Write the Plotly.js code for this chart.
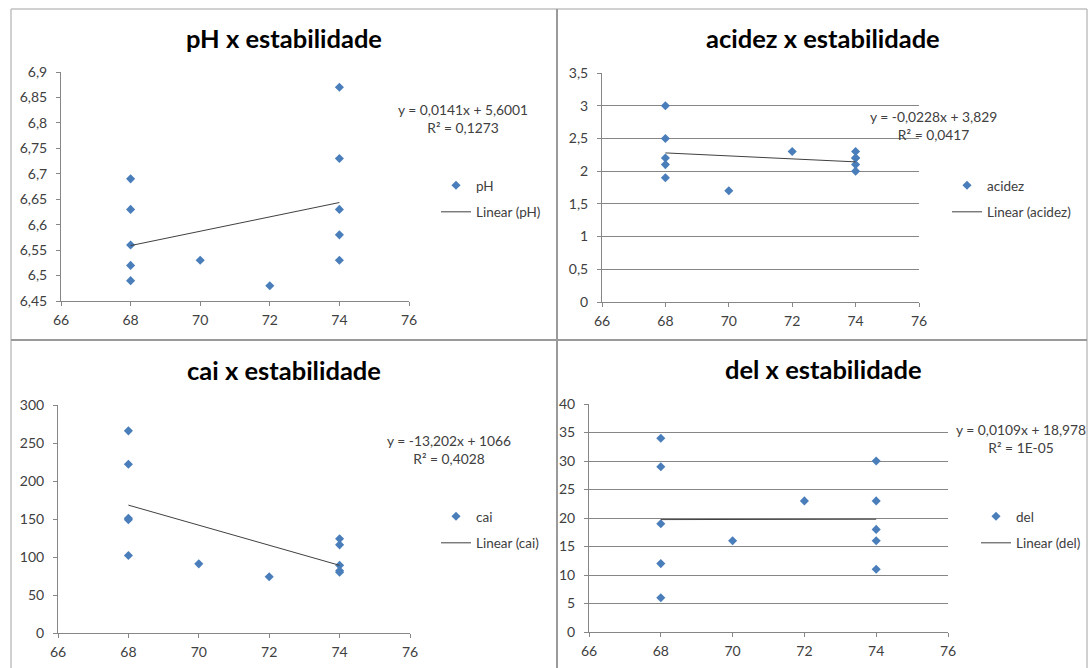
<!DOCTYPE html>
<html>
<head>
<meta charset="utf-8">
<script src="https://cdn.plot.ly/plotly-3.0.1.min.js"></script>
<style>
  html, body { margin: 0; padding: 0; background: #ffffff; }
  #chart { width: 1089px; height: 668px; }
</style>
</head>
<body>
<div id="chart"></div>
<script>
// ---- data ----
const estabilidade = [68, 68, 68, 68, 68, 70, 72, 74, 74, 74, 74, 74];
const pH     = [6.69, 6.63, 6.56, 6.52, 6.49, 6.53, 6.48, 6.87, 6.73, 6.63, 6.58, 6.53];
const acidez = [3.0, 2.5, 2.2, 2.1, 1.9, 1.7, 2.3, 2.3, 2.2, 2.2, 2.1, 2.0];
const cai    = [266, 222, 151, 149, 102, 91, 74, 124, 116, 89, 82, 80];
const del    = [34, 29, 19, 12, 6, 16, 23, 30, 23, 18, 16, 11];

const seriesNames = ['pH', 'acidez', 'cai', 'del'];
const chartTitles = ['pH x estabilidade', 'acidez x estabilidade', 'cai x estabilidade', 'del x estabilidade'];
// trend line equations as printed on the chart
const trendSlope     = [0.0141, -0.0228, -13.202, 0.0109];
const trendIntercept = [5.6001, 3.829, 1066, 18.978];
const trendLabels = [
  'y = 0,0141x + 5,6001<br>R² = 0,1273',
  'y = -0,0228x + 3,829<br>R² = 0,0417',
  'y = -13,202x + 1066<br>R² = 0,4028',
  'y = 0,0109x + 18,978<br>R² = 1E-05'
];
const xTicks = [66, 68, 70, 72, 74, 76];
const yRanges = [[6.45, 6.9], [0, 3.5], [0, 300], [0, 40]];
const yDticks = [0.05, 0.5, 50, 5];
const yGrid = [false, true, false, true];

const allY = [pH, acidez, cai, del];

// ---- layout helpers (pixel -> paper) ----
const W = 1089, H = 668;
const px = v => v / W;
const py = v => 1 - v / H;

// plot areas in pixels: [left, right, top, bottom]
const boxes = [
  [61, 409, 72, 301],
  [602, 919, 73, 302],
  [58, 410, 405, 633],
  [589, 948, 404, 632]
];
const titlePos = [[284, 38], [823, 38], [284, 370], [823, 369]];
const eqPos = [[463, 118], [933, 126], [449, 449], [1021, 438]];
const legPos = [[436, 170], [947, 170], [436, 501], [976, 501]];

const FONT = 'Lato, "Open Sans", sans-serif';
const AXC = '#868686';
const TXT = '#404040';

const traces = [];
const layout = {
  width: W, height: H,
  margin: {l: 0, r: 0, t: 0, b: 0},
  paper_bgcolor: '#ffffff', plot_bgcolor: '#ffffff',
  separators: ', ',
  font: {family: FONT, size: 14, color: TXT},
  annotations: [], shapes: []
};

const xmin = Math.min(...estabilidade), xmax = Math.max(...estabilidade);

for (let i = 0; i < 4; i++) {
  const sfx = i === 0 ? '' : String(i + 1);
  const b = boxes[i];
  const legName = 'legend' + sfx;
  traces.push({
    type: 'scatter', mode: 'markers',
    x: estabilidade, y: allY[i],
    xaxis: 'x' + sfx, yaxis: 'y' + sfx,
    name: seriesNames[i], legend: legName, legendgroup: 'g' + i + 'a',
    marker: {symbol: 'diamond', size: 7, color: '#4a7ebb'}
  });
  traces.push({
    type: 'scatter', mode: 'lines',
    x: [xmin, xmax],
    y: [trendSlope[i] * xmin + trendIntercept[i], trendSlope[i] * xmax + trendIntercept[i]],
    xaxis: 'x' + sfx, yaxis: 'y' + sfx,
    name: 'Linear (' + seriesNames[i] + ')', legend: legName, legendgroup: 'g' + i + 'b',
    line: {color: '#404040', width: 1}
  });
  layout['xaxis' + sfx] = {
    domain: [px(b[0]), px(b[1])], anchor: 'y' + sfx,
    range: [66, 76], tickvals: xTicks,
    showgrid: false, zeroline: false,
    showline: true, linecolor: AXC, linewidth: 1,
    ticks: 'outside', ticklen: 4, tickcolor: AXC, ticklabelstandoff: 2,
    tickfont: {family: FONT, size: 14, color: TXT}, fixedrange: true
  };
  layout['yaxis' + sfx] = {
    domain: [py(b[3]), py(b[2])], anchor: 'x' + sfx,
    range: yRanges[i], dtick: yDticks[i], tick0: 0,
    showgrid: yGrid[i], gridcolor: AXC, gridwidth: 1,
    zeroline: false,
    showline: true, linecolor: AXC, linewidth: 1,
    ticks: 'outside', ticklen: 4, tickcolor: AXC, ticklabelstandoff: 6,
    tickfont: {family: FONT, size: 14, color: TXT}, fixedrange: true
  };
  layout[legName] = {
    x: px(legPos[i][0]), y: py(legPos[i][1]), xanchor: 'left', yanchor: 'top',
    bgcolor: 'rgba(0,0,0,0)', borderwidth: 0,
    traceorder: 'grouped', tracegroupgap: 6,
    font: {family: FONT, size: 13.5, color: TXT}
  };
  layout.annotations.push({
    text: '<b>' + chartTitles[i] + '</b>', showarrow: false,
    xref: 'paper', yref: 'paper', x: px(titlePos[i][0]), y: py(titlePos[i][1]),
    xanchor: 'center', yanchor: 'middle',
    font: {family: FONT, size: 25.5, color: '#000000'}
  });
  layout.annotations.push({
    text: trendLabels[i], showarrow: false, align: 'center',
    xref: 'paper', yref: 'paper', x: px(eqPos[i][0]), y: py(eqPos[i][1]),
    xanchor: 'center', yanchor: 'middle',
    font: {family: FONT, size: 13.8, color: TXT}
  });
}

// panel frames
const frameLine = (x0, y0, x1, y1, c, w) => ({
  type: 'line', xref: 'paper', yref: 'paper',
  x0: px(x0), y0: py(y0), x1: px(x1), y1: py(y1),
  line: {color: c, width: w}
});
layout.shapes.push(frameLine(11, 9, 1087, 9, '#c0c0c0', 1.5));
layout.shapes.push(frameLine(11, 9, 11, 668, '#c0c0c0', 1.5));
layout.shapes.push(frameLine(1087, 9, 1087, 668, '#c0c0c0', 1.5));
layout.shapes.push(frameLine(557, 9, 557, 668, '#9a9a9a', 2));
layout.shapes.push(frameLine(11, 340, 1087, 340, '#9a9a9a', 2));

Plotly.newPlot('chart', traces, layout, {staticPlot: true, displayModeBar: false});
</script>
</body>
</html>
